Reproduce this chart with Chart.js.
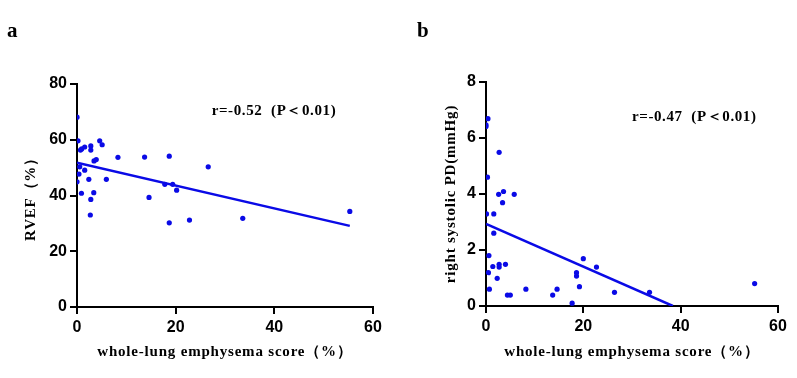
<!DOCTYPE html>
<html>
<head>
<meta charset="utf-8">
<script src="https://cdn.jsdelivr.net/npm/chart.js@4.4.1/dist/chart.umd.min.js"></script>
<style>
  body { margin: 0; background: #fff; }
  .panel { position: absolute; top: 0; }
</style>
</head>
<body>
<div class="panel" style="left:0"><canvas id="chartA" width="400" height="378"></canvas></div>
<div class="panel" style="left:400px"><canvas id="chartB" width="397" height="378"></canvas></div>
<script>
// emphysema score (%) per patient
const emphA = [0, 0.2, 0.7, 0.95, 1.56, 2.8, 2.8, 4.6, 5.1, 0.55, 1.56, 0.4, 0, 2.4, 5.95, 0.9, 3.4,
  2.8, 2.7, 3.45, 3.9, 8.3, 13.7, 18.7, 14.6, 17.8, 19.4, 20.2, 18.7, 22.8, 26.6, 33.6, 55.3];
const rvef = [68.1, 59.6, 56.3, 56.7, 57.4, 57.8, 56.3, 59.6, 58.2, 50.3, 49.1, 47.7, 44.9, 45.8, 45.8, 40.8, 41.0,
  38.6, 33.0, 52.4, 52.9, 53.7, 53.8, 54.1, 39.3, 44.0, 44.0, 41.9, 30.2, 31.2, 50.3, 31.8, 34.3];

const emphB = [0, 0, 0.4, 0.3, 0.1, 0.6, 0.5, 0.7, 1.6, 1.6, 1.4, 2.3, 2.7, 2.6, 3.6, 3.4, 2.7,
  2.7, 4.0, 4.4, 5.0, 5.8, 8.2, 13.7, 14.6, 17.7, 18.6, 18.6, 19.2, 20.0, 22.7, 26.4, 33.6, 55.2];
const rspd = [6.47, 6.41, 6.69, 4.6, 3.29, 1.8, 1.19, 0.6, 3.29, 2.6, 1.41, 0.99, 5.49, 3.99, 4.09, 3.69, 1.49,
  1.39, 1.49, 0.39, 0.39, 3.99, 0.6, 0.39, 0.6, 0.1, 1.19, 1.07, 0.69, 1.69, 1.39, 0.49, 0.49, 0.8];

// fitted lines (end points)
const fitAx = [0, 55.3];
const fitAy = [51.8, 29.1];
const fitBx = [0, 38.4];
const fitBy = [2.93, 0];

const xTicks = [0, 20, 40, 60];
const xTitle = 'whole-lung emphysema score（%）';
const BLUE = '#0a0ae6';

function toXY(xs, ys) {
  return xs.map((x, i) => ({ x, y: ys[i] }));
}

// panel letter, axis titles (letter-spaced serif) and r/P note
const labelPlugin = {
  id: 'labels',
  afterDraw(chart, args, opts) {
    const ctx = chart.ctx;
    const area = chart.chartArea;
    ctx.save();
    ctx.fillStyle = '#000';
    ctx.textAlign = 'left';
    ctx.textBaseline = 'alphabetic';
    ctx.font = 'bold 21px "Liberation Serif"';
    ctx.fillText(opts.letter, opts.letterX, 37);

    ctx.textBaseline = 'middle';
    ctx.textAlign = 'center';
    ctx.font = 'bold 15px "Liberation Serif"';
    ctx.letterSpacing = '0.8px';
    ctx.fillText(xTitle, (area.left + area.right) / 2, 352);

    ctx.save();
    ctx.translate(opts.yTitleX, (area.top + area.bottom) / 2);
    ctx.rotate(-Math.PI / 2);
    ctx.fillText(opts.yTitle, 0, 0);
    ctx.restore();

    ctx.textAlign = 'left';
    ctx.letterSpacing = '0.6px';
    const px = chart.scales.x.getPixelForValue(opts.noteX);
    const py = chart.scales.y.getPixelForValue(opts.noteY);
    ctx.fillText(opts.note, px, py);
    ctx.restore();
  }
};

function makeChart(id, cfg) {
  const axisFont = { family: 'Liberation Sans', size: 16, weight: 'bold' };
  return new Chart(document.getElementById(id), {
    type: 'scatter',
    data: {
      datasets: [
        {
          data: cfg.points,
          backgroundColor: BLUE,
          borderColor: BLUE,
          pointRadius: 2.6,
          pointBorderWidth: 0
        },
        {
          type: 'line',
          data: cfg.fit,
          borderColor: BLUE,
          borderWidth: 2.5,
          pointRadius: 0,
          fill: false
        }
      ]
    },
    options: {
      responsive: false,
      animation: false,
      layout: { padding: cfg.padding },
      plugins: {
        legend: { display: false },
        tooltip: { enabled: false },
        labels: cfg.labels
      },
      scales: {
        x: {
          type: 'linear',
          min: 0, max: 60,
          afterBuildTicks: s => { s.ticks = xTicks.map(v => ({ value: v })); },
          afterFit: s => { s.height = cfg.xHeight; },
          border: { display: true, color: '#000', width: 2 },
          grid: { drawOnChartArea: false, drawTicks: true, tickLength: 7, color: '#000', lineWidth: 2 },
          ticks: { color: '#000', font: axisFont, padding: 4, maxRotation: 0 }
        },
        y: {
          min: 0, max: cfg.yMax,
          afterFit: s => { s.width = cfg.yWidth; },
          border: { display: true, color: '#000', width: 2 },
          grid: { drawOnChartArea: false, drawTicks: true, tickLength: 7, color: '#000', lineWidth: 2 },
          ticks: { color: '#000', font: axisFont, padding: 3, stepSize: cfg.yStep }
        }
      }
    },
    plugins: [labelPlugin]
  });
}

makeChart('chartA', {
  points: toXY(emphA, rvef),
  fit: toXY(fitAx, fitAy),
  yMax: 80, yStep: 20,
  yWidth: 77, xHeight: 71,
  padding: { top: 84, right: 27, bottom: 0, left: 0 },
  labels: {
    letter: 'a', letterX: 7, yTitle: 'RVEF（%）', yTitleX: 31.5,
    note: 'r=-0.52  (P＜0.01)', noteX: 27.3, noteY: 70.3
  }
});

makeChart('chartB', {
  points: toXY(emphB, rspd),
  fit: toXY(fitBx, fitBy),
  yMax: 8, yStep: 2,
  yWidth: 86, xHeight: 72,
  padding: { top: 82, right: 19, bottom: 0, left: 0 },
  labels: {
    letter: 'b', letterX: 17, yTitle: 'right systolic PD(mmHg)', yTitleX: 51.5,
    note: 'r=-0.47  (P＜0.01)', noteX: 30, noteY: 6.76
  }
});
</script>
</body>
</html>
